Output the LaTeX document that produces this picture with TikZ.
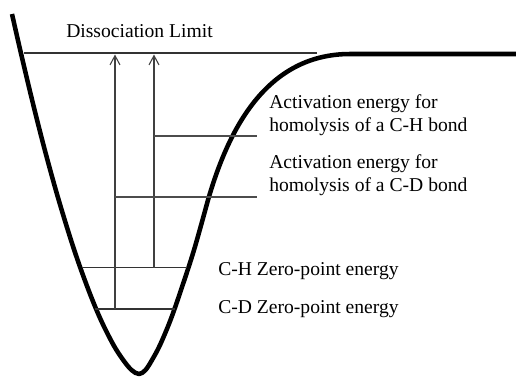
\documentclass[tikz,border=0pt]{standalone}
\usepackage{fontspec}
\setmainfont{Liberation Serif}
\usetikzlibrary{arrows.meta}
\begin{document}
\begin{tikzpicture}[x=0.75pt,y=-0.75pt,
  well/.style={line width=3.4pt,line join=round},
  level/.style={line width=1.4pt,draw=black!80},
  leader/.style={line width=0.8pt,draw=black!70},
  uparrow/.style={line width=0.8pt,draw=black!75,-{Straight Barb[length=7pt,width=7.5pt,line width=0.8pt]}},
  lbl/.style={anchor=base west,inner sep=0pt,font=\fontsize{14.7pt}{17.5pt}\selectfont,align=left}]
\useasboundingbox (0,0) rectangle (516,376);
% potential well
\draw[well] plot[smooth,tension=0.55] coordinates{
 (12,14) (20.2,50) (32.1,100) (44.8,150) (58.7,200) (74.2,250) (88.5,290)
 (100.9,320) (113.5,345) (123.2,360) (131.5,370) (139,374) (145.5,370)
 (152,360) (160,345) (170.5,320) (181,290) (194,250) (208,200)}
 .. controls (226,138) and (262,54) .. (350,54) -- (516,54);
% coordinates
\coordinate (dL) at (24,53);
\coordinate (dR) at (317,53);
\coordinate (chL) at (82,267.5);
\coordinate (chR) at (187,267.5);
\coordinate (cdL) at (95,309);
\coordinate (cdR) at (175,309);
\coordinate (aCD) at (115,309);
\coordinate (aCH) at (154,267.5);
\coordinate (aCDt) at (115,54.5);
\coordinate (aCHt) at (154,54.5);
\coordinate (l1s) at (154,136);
\coordinate (l1e) at (257,136);
\coordinate (l2s) at (115,197);
\coordinate (l2e) at (257,197);
% levels
\draw[level] (dL) -- (dR);
\draw[level] (chL) -- (chR);
\draw[level] (cdL) -- (cdR);
% arrows
\draw[uparrow] (aCD) -- (aCDt);
\draw[uparrow] (aCH) -- (aCHt);
% leaders
\draw[leader] (l1s) -- (l1e);
\draw[leader] (l2s) -- (l2e);
% labels
\node[lbl] (tdis) at (66,37.5) {Dissociation Limit};
\node[lbl] (tch) at (269,131.5) {Activation energy for\\homolysis of a C-H bond};
\node[lbl] (tcd) at (269,191.5) {Activation energy for\\homolysis of a C-D bond};
\node[lbl] (zch) at (218,275) {C-H Zero-point energy};
\node[lbl] (zcd) at (218,313.3) {C-D Zero-point energy};
\end{tikzpicture}
\end{document}
